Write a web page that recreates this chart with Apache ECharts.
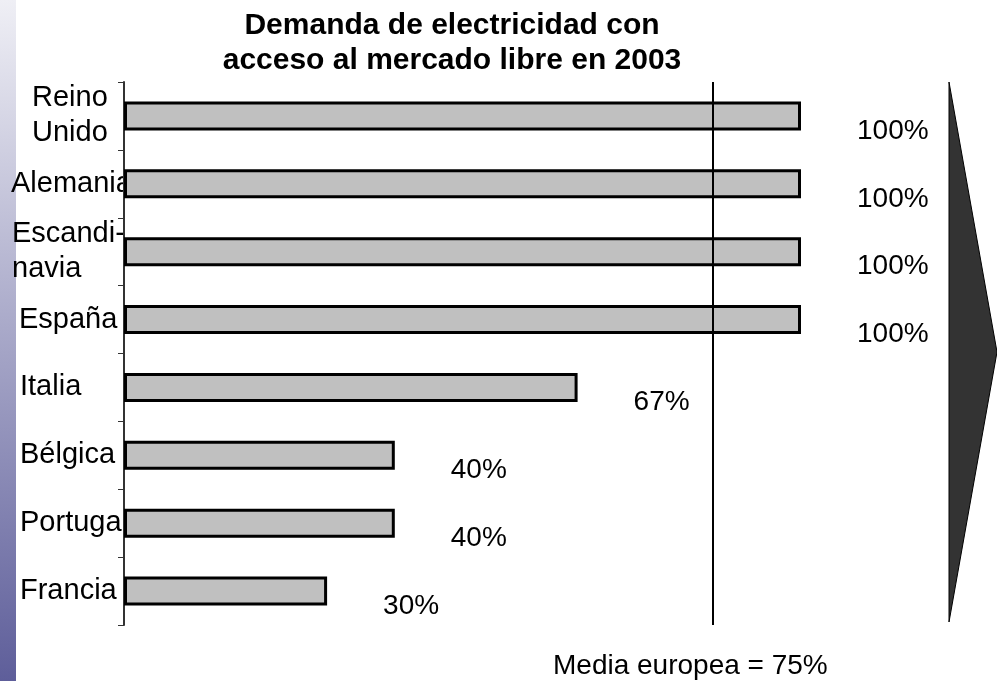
<!DOCTYPE html>
<html>
<head>
<meta charset="utf-8">
<script src="https://cdn.jsdelivr.net/npm/echarts@6/dist/echarts.min.js"></script>
<style>
  html, body { margin: 0; padding: 0; background: #fff; }
  #chart { width: 997px; height: 681px; }
</style>
</head>
<body>
<div id="chart"></div>
<script>
// 数据
const categories = ['Reino\nUnido', 'Alemania', 'Escandi-\nnavia', 'España', 'Italia', 'Bélgica', 'Portugal', 'Francia'];
const values = [100, 100, 100, 100, 67, 40, 40, 30];
// 每个标签的左起点（原图）
const labelLeft = [32, 11, 12, 19, 20, 20, 20, 20];
// 竖线在图中的位置（原图画在约 87% 处，标注写的是 75%）
const mediaLinePos = 86.9;
const mediaText = 'Media europea = 75%';
const titleText = 'Demanda de electricidad con\nacceso al mercado libre en 2003';

const FONT = 'Liberation Sans, Arial, sans-serif';
const AXIS_X = 124;

const chart = echarts.init(document.getElementById('chart'));

const option = {
    backgroundColor: '#fff',
    animation: false,
    title: {
        text: titleText,
        left: 447,
        top: 3,
        textAlign: 'center',
        textStyle: {
            fontFamily: FONT,
            fontSize: 30,
            fontWeight: 'bold',
            color: '#000',
            lineHeight: 35
        }
    },
    grid: {
        left: AXIS_X,
        right: 196,
        top: 82,
        bottom: 56,
        containLabel: false,
        outerBoundsMode: 'none'
    },
    xAxis: {
        type: 'value',
        min: 0,
        max: 100,
        show: false
    },
    yAxis: {
        type: 'category',
        inverse: true,
        data: categories,
        axisLine: { lineStyle: { color: '#333', width: 2 } },
        axisTick: { show: true, length: 6, lineStyle: { color: '#333', width: 1 } },
        // 标签由下面的 graphic 画（原图标签起点不一致）
        axisLabel: { show: false }
    },
    series: [{
        type: 'bar',
        data: values,
        barWidth: 29,
        z: 3,
        itemStyle: {
            color: '#c0c0c0',
            borderColor: '#000',
            borderWidth: 3
        },
        label: {
            show: true,
            position: 'right',
            distance: 56,
            offset: [0, 15],
            formatter: '{c}%',
            fontFamily: FONT,
            fontSize: 28,
            color: '#000'
        },
        markLine: {
            silent: true,
            symbol: 'none',
            label: { show: false },
            lineStyle: { color: '#000', width: 2, type: 'solid' },
            data: [{ xAxis: mediaLinePos }]
        }
    }],
    graphic: [
        // 左侧渐变条
        {
            type: 'rect',
            left: 0,
            top: 0,
            shape: { width: 16, height: 681 },
            style: {
                fill: new echarts.graphic.LinearGradient(0, 0, 0, 1, [
                    { offset: 0, color: '#efeff5' },
                    { offset: 1, color: '#5e5e9a' }
                ])
            }
        },
        // 右侧箭头
        {
            type: 'polygon',
            shape: { points: [[949, 82], [997, 352], [949, 622]] },
            style: { fill: '#333333', stroke: '#000', lineWidth: 1 }
        },
        // 底部说明
        {
            type: 'text',
            left: 553,
            top: 652,
            style: {
                text: mediaText,
                fontFamily: FONT,
                fontSize: 28,
                fill: '#000'
            }
        }
    ]
};

chart.setOption(option);

// 类目标签：左对齐，按原图起点放置，纵向位置取自类目轴
const labelGraphics = categories.map((c, i) => ({
    type: 'text',
    z: 0,
    x: labelLeft[i],
    y: chart.convertToPixel({ yAxisIndex: 0 }, i),
    style: {
        text: c,
        fontFamily: FONT,
        fontSize: 29,
        lineHeight: 35,
        fill: '#000',
        align: 'left',
        verticalAlign: 'middle'
    }
}));
chart.setOption({ graphic: option.graphic.concat(labelGraphics) });
</script>
</body>
</html>
